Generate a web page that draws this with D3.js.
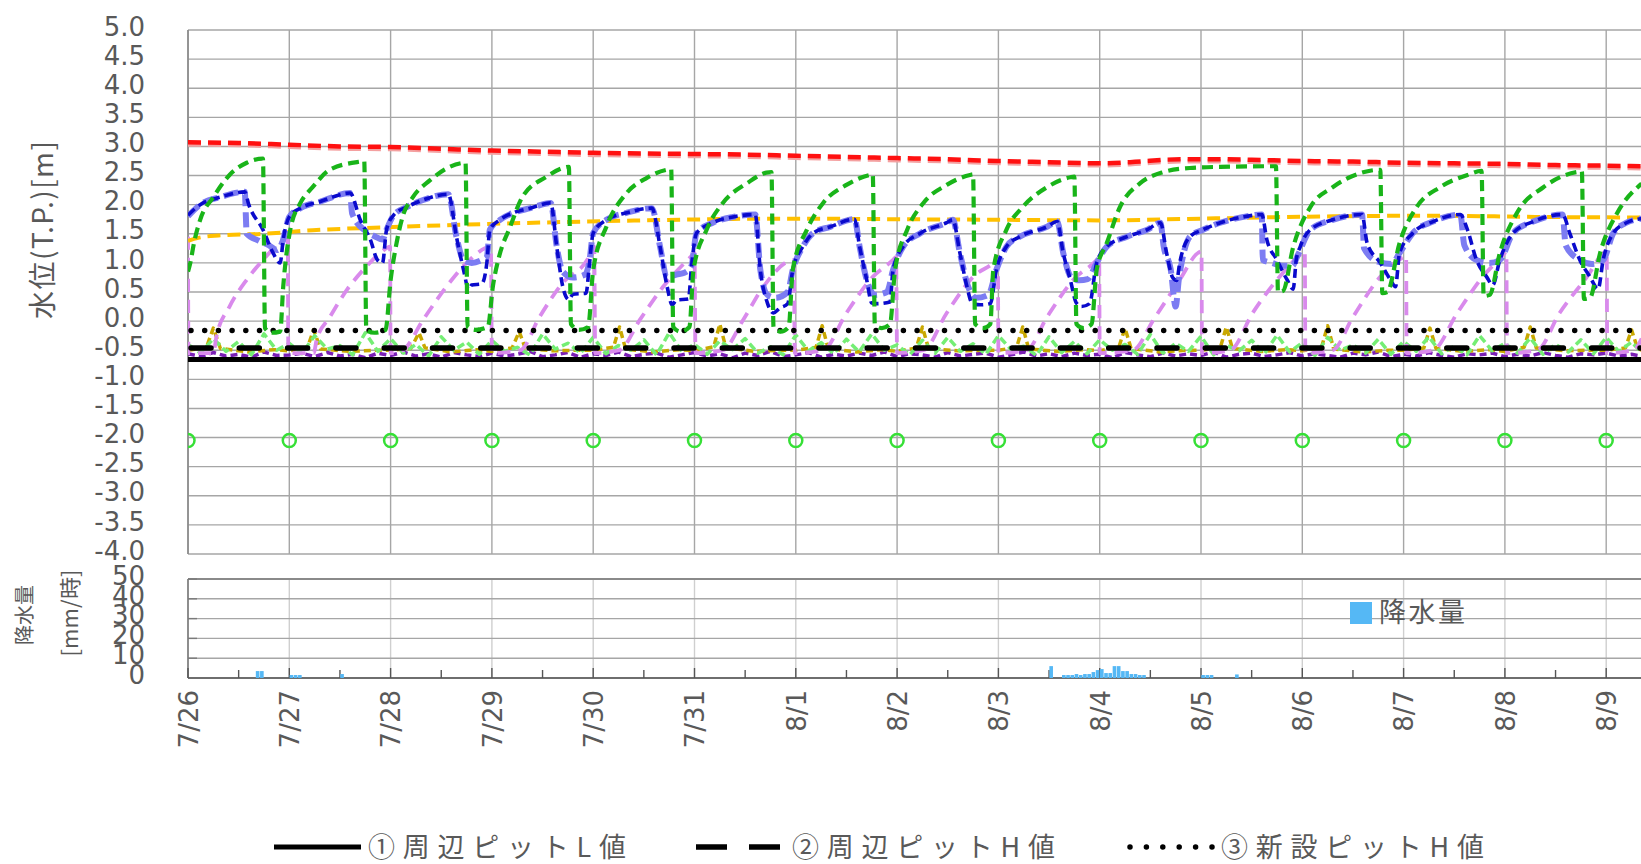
<!DOCTYPE html>
<html><head><meta charset="utf-8">
<script src="https://cdn.jsdelivr.net/npm/d3@7"></script>
<style>body{margin:0;background:#fff;} svg{display:block}</style>
</head><body>
<svg id="c" width="1641" height="864"></svg>
<script>
// ---------- DATA ----------
const dayLabels = ["7/26","7/27","7/28","7/29","7/30","7/31","8/1","8/2","8/3","8/4","8/5","8/6","8/7","8/8","8/9"];
const levelTicks = [5.0,4.5,4.0,3.5,3.0,2.5,2.0,1.5,1.0,0.5,0.0,-0.5,-1.0,-1.5,-2.0,-2.5,-3.0,-3.5,-4.0];
const rainTicks = [0,10,20,30,40,50];

// reference levels [m]
const levelL_surround = -0.66;   // ①周辺ピットL値
const levelH_surround = -0.46;   // ②周辺ピットH値
const levelH_new = -0.16;        // ③新設ピットH値

// series: [day offset from 7/26 0:00, level m]
const seriesGreen = [
[0,0.85],[0.02,0.98],[0.06,1.35],[0.12,1.74],[0.25,2.13],[0.41,2.51],[0.58,2.72],[0.74,2.79],
[0.76,-0.12],[0.82,-0.2],[0.91,-0.18],[0.94,0.59],[1.01,1.57],[1.11,2.03],[1.23,2.30],[1.40,2.60],[1.70,2.74],[1.74,2.75],
[1.76,-0.15],[1.84,-0.2],[1.95,-0.15],[2.0,0.7],[2.06,1.35],[2.12,1.8],[2.22,2.13],[2.39,2.42],[2.56,2.63],[2.74,2.72],
[2.76,-0.1],[2.84,-0.15],[2.96,-0.1],[3.01,0.6],[3.07,1.1],[3.18,1.62],[3.30,2.13],[3.54,2.48],[3.70,2.63],[3.76,2.65],
[3.78,-0.05],[3.86,-0.15],[3.95,-0.1],[4.0,0.88],[4.13,1.62],[4.33,2.2],[4.53,2.46],[4.73,2.6],[4.77,2.61],
[4.79,-0.1],[4.86,-0.18],[4.95,-0.1],[4.99,0.88],[5.12,1.57],[5.28,2.03],[5.52,2.37],[5.71,2.55],[5.76,2.56],
[5.78,-0.1],[5.85,-0.18],[5.93,-0.1],[5.97,0.88],[6.11,1.57],[6.27,2.03],[6.5,2.34],[6.73,2.51],[6.76,2.52],
[6.78,-0.05],[6.85,-0.12],[6.93,-0.05],[6.98,0.88],[7.1,1.57],[7.26,2.03],[7.49,2.34],[7.72,2.51],[7.75,2.52],
[7.77,-0.05],[7.85,-0.12],[7.92,-0.05],[7.95,0.88],[8.08,1.57],[8.24,1.96],[8.48,2.3],[8.71,2.47],[8.75,2.48],
[8.77,-0.05],[8.84,-0.12],[8.92,-0.05],[8.97,0.88],[9.07,1.34],[9.2,1.96],[9.4,2.37],[9.63,2.56],[9.89,2.63],[10.19,2.65],[10.74,2.66],
[10.76,0.5],[10.81,0.52],[10.91,1.27],[11.08,1.96],[11.3,2.3],[11.57,2.54],[11.77,2.6],
[11.79,0.48],[11.84,0.5],[11.96,1.34],[12.13,1.96],[12.36,2.3],[12.63,2.51],[12.77,2.58],
[12.79,0.43],[12.85,0.45],[12.95,1.17],[13.12,1.86],[13.38,2.3],[13.71,2.56],[13.76,2.57],
[13.78,0.38],[13.84,0.4],[13.94,1.17],[14.11,1.86],[14.35,2.36]];

const seriesBlueDark = [
[0,1.82],[0.12,2.0],[0.32,2.13],[0.56,2.22],[0.6,2.0],[0.74,1.57],[0.84,1.17],[0.91,1.0],[0.94,1.4],[1.0,1.79],[1.11,1.94],[1.3,2.05],[1.6,2.2],
[1.7,1.74],[1.8,1.4],[1.87,1.05],[1.92,1.0],[1.96,1.57],[2.03,1.82],[2.16,1.96],[2.32,2.08],[2.57,2.18],
[2.65,1.45],[2.72,0.88],[2.77,0.55],[2.8,0.62],[2.9,0.64],[2.95,1.0],[2.98,1.57],[3.08,1.74],[3.21,1.86],[3.38,1.94],[3.58,2.03],
[3.64,1.28],[3.7,0.59],[3.76,0.37],[3.8,0.46],[3.93,0.48],[3.96,0.93],[4.0,1.51],[4.13,1.74],[4.33,1.86],[4.58,1.94],
[4.66,1.28],[4.73,0.59],[4.78,0.28],[4.82,0.36],[4.94,0.38],[4.97,0.93],[5.02,1.51],[5.18,1.69],[5.38,1.79],[5.6,1.83],
[5.65,0.88],[5.72,0.31],[5.78,0.14],[5.84,0.22],[5.92,0.3],[5.97,0.88],[6.07,1.28],[6.17,1.51],[6.34,1.62],[6.58,1.75],
[6.63,1.28],[6.7,0.71],[6.75,0.31],[6.8,0.3],[6.93,0.33],[6.96,0.88],[7.06,1.28],[7.23,1.51],[7.49,1.69],[7.55,1.74],
[7.62,1.17],[7.69,0.59],[7.74,0.31],[7.82,0.28],[7.92,0.3],[7.98,0.88],[8.08,1.28],[8.21,1.45],[8.48,1.62],[8.58,1.71],
[8.64,1.17],[8.71,0.71],[8.77,0.31],[8.82,0.25],[8.9,0.3],[8.97,1.0],[9.07,1.28],[9.27,1.45],[9.47,1.57],[9.6,1.69],
[9.66,1.17],[9.72,0.75],[9.76,0.7],[9.79,1.0],[9.89,1.45],[10.02,1.57],[10.19,1.69],[10.42,1.79],[10.6,1.83],
[10.65,1.4],[10.75,1.05],[10.85,0.71],[10.91,0.55],[10.94,1.05],[10.98,1.28],[11.08,1.57],[11.3,1.74],[11.59,1.83],
[11.64,1.34],[11.77,1.0],[11.87,0.71],[11.92,0.59],[11.96,1.17],[12.09,1.51],[12.29,1.71],[12.56,1.83],
[12.63,1.57],[12.72,1.05],[12.82,0.76],[12.88,0.62],[12.95,1.05],[13.08,1.51],[13.28,1.71],[13.57,1.83],
[13.64,1.51],[13.74,1.05],[13.84,0.76],[13.92,0.55],[13.97,1.05],[14.07,1.51],[14.2,1.69],[14.35,1.76]];

const seriesBlueLight = [
[0,1.8],[0.12,2.0],[0.32,2.13],[0.56,2.22],[0.58,1.5],[0.7,1.38],[0.8,1.3],[0.88,1.22],[0.93,1.35],[1.0,1.79],[1.11,1.94],[1.3,2.05],[1.6,2.2],
[1.62,1.85],[1.75,1.55],[1.85,1.45],[1.92,1.4],[1.96,1.57],[2.03,1.82],[2.16,1.96],[2.32,2.08],[2.57,2.18],
[2.65,1.45],[2.72,1.05],[2.8,1.0],[2.9,1.05],[2.95,1.1],[2.98,1.57],[3.08,1.74],[3.21,1.86],[3.38,1.94],[3.58,2.03],
[3.64,1.28],[3.7,0.85],[3.8,0.75],[3.92,0.8],[3.96,1.0],[4.0,1.51],[4.13,1.74],[4.33,1.86],[4.58,1.94],
[4.66,1.28],[4.73,0.75],[4.82,0.8],[4.9,0.83],[4.97,0.95],[5.02,1.51],[5.18,1.69],[5.38,1.79],[5.6,1.83],
[5.65,0.88],[5.72,0.45],[5.8,0.4],[5.92,0.5],[5.97,0.88],[6.07,1.28],[6.17,1.51],[6.34,1.62],[6.58,1.75],
[6.63,1.28],[6.7,0.71],[6.78,0.45],[6.9,0.5],[6.96,0.88],[7.06,1.28],[7.23,1.51],[7.49,1.69],[7.55,1.74],
[7.62,1.17],[7.7,0.6],[7.78,0.4],[7.9,0.45],[7.98,0.88],[8.08,1.28],[8.21,1.45],[8.48,1.62],[8.58,1.71],
[8.64,1.17],[8.72,0.75],[8.8,0.7],[8.88,0.72],[8.97,1.0],[9.07,1.28],[9.27,1.45],[9.47,1.57],[9.6,1.69],
[9.63,1.3],[9.7,0.9],[9.75,0.25],[9.78,0.7],[9.82,1.1],[9.89,1.45],[10.02,1.57],[10.19,1.69],[10.42,1.79],[10.6,1.83],
[10.61,1.05],[10.7,1.0],[10.8,0.95],[10.9,0.95],[10.96,1.15],[11.08,1.57],[11.3,1.74],[11.59,1.83],
[11.61,1.25],[11.75,1.02],[11.88,0.98],[11.96,1.17],[12.09,1.51],[12.29,1.71],[12.56,1.83],
[12.6,1.3],[12.72,1.05],[12.85,1.0],[12.95,1.05],[13.08,1.51],[13.28,1.71],[13.57,1.83],
[13.6,1.3],[13.74,1.05],[13.86,0.98],[13.97,1.05],[14.07,1.51],[14.2,1.69],[14.35,1.76]];

const seriesPink = [
[0,1.45],[0.005,-0.55],[0.25,-0.55],[0.28,-0.27],[0.41,0.25],[0.58,0.71],[0.74,1.05],[0.91,1.34],[0.985,1.4],
[0.99,-0.55],[1.24,-0.55],[1.27,-0.32],[1.4,0.07],[1.57,0.54],[1.73,0.88],[1.9,1.17],[1.995,1.28],
[2.0,-0.55],[2.12,-0.5],[2.32,0.02],[2.55,0.59],[2.78,1.05],[2.99,1.28],
[3.0,-0.55],[3.28,-0.5],[3.47,0.07],[3.7,0.66],[3.94,1.05],[4.01,1.28],
[4.02,-0.55],[4.26,-0.5],[4.46,0.02],[4.69,0.59],[4.96,1.1],[5.0,1.17],
[5.01,-0.55],[5.28,-0.5],[5.48,0.02],[5.68,0.59],[5.98,1.05],
[5.99,-0.55],[6.27,-0.5],[6.5,0.14],[6.76,0.76],[6.96,1.05],[6.99,1.1],
[7.0,-0.55],[7.26,-0.5],[7.49,0.14],[7.75,0.76],[7.98,1.05],[7.995,1.08],
[8.0,-0.55],[8.28,-0.5],[8.48,0.07],[8.74,0.71],[8.97,1.05],[8.995,1.1],
[9.0,-0.55],[9.33,-0.5],[9.53,0.02],[9.79,0.71],[9.97,1.17],[10.005,1.2],
[10.01,-0.55],[10.29,-0.5],[10.51,0.14],[10.81,0.83],[11.0,1.17],[11.025,1.2],
[11.03,-0.55],[11.3,-0.5],[11.5,0.07],[11.77,0.76],[12.0,1.1],[12.025,1.12],
[12.03,-0.55],[12.29,-0.5],[12.53,0.14],[12.78,0.76],[13.0,1.17],[13.015,1.2],
[13.02,-0.55],[13.32,-0.5],[13.54,0.14],[13.81,0.76],[13.99,1.19],[14.005,1.2],
[14.01,-0.55],[14.27,-0.5],[14.35,-0.3]];

const seriesRed = [
[0,3.07],[0.5,3.06],[1,3.03],[1.5,3.0],[2,2.99],[2.5,2.96],[3,2.93],[3.5,2.91],[4,2.89],[4.5,2.88],[5,2.87],[5.5,2.86],
[6,2.84],[6.5,2.82],[7,2.8],[7.5,2.78],[8,2.75],[8.5,2.73],[9,2.71],[9.3,2.73],[9.8,2.78],[10.2,2.78],[10.5,2.77],
[11,2.75],[11.5,2.74],[12,2.72],[12.5,2.71],[13,2.7],[13.5,2.68],[14,2.67],[14.35,2.66]];

const seriesOrange = [
[0,1.38],[0.1,1.43],[0.3,1.47],[0.74,1.5],[1.23,1.56],[2.09,1.62],[3.2,1.68],[4.5,1.73],[5.8,1.76],[7,1.75],
[8,1.74],[9,1.73],[10,1.76],[11.3,1.8],[12.3,1.81],[13.3,1.79],[14.35,1.78]];

// bottom band series sampled every 3 hours from 7/26 0:00
const seriesLightGreen = [
-0.40,-0.55,-0.30,-0.52,-0.35,-0.58,-0.22,-0.50,
-0.38,-0.56,-0.25,-0.48,-0.42,-0.58,-0.20,-0.52,
-0.30,-0.55,-0.40,-0.60,-0.27,-0.50,-0.36,-0.57,
-0.33,-0.52,-0.45,-0.58,-0.22,-0.48,-0.38,-0.55,
-0.28,-0.56,-0.42,-0.50,-0.32,-0.58,-0.20,-0.52,
-0.40,-0.57,-0.34,-0.49,-0.30,-0.55,-0.44,-0.58,
-0.24,-0.51,-0.37,-0.56,-0.31,-0.53,-0.22,-0.50,
-0.41,-0.58,-0.33,-0.55,-0.28,-0.52,-0.39,-0.57,
-0.25,-0.49,-0.43,-0.59,-0.27,-0.54,-0.35,-0.56,
-0.32,-0.50,-0.40,-0.57,-0.23,-0.55,-0.38,-0.52,
-0.26,-0.58,-0.42,-0.51,-0.33,-0.56,-0.24,-0.53,
-0.37,-0.59,-0.28,-0.50,-0.41,-0.55,-0.31,-0.57,
-0.35,-0.52,-0.27,-0.56,-0.43,-0.58,-0.25,-0.51,
-0.38,-0.55,-0.29,-0.57,-0.40,-0.53,-0.32,-0.56,
-0.28,-0.52,-0.36,-0.58];
const seriesPurple = [
-0.56,-0.61,-0.54,-0.60,-0.57,-0.62,-0.53,-0.59,
-0.58,-0.55,-0.61,-0.54,-0.60,-0.57,-0.63,-0.55,
-0.59,-0.53,-0.60,-0.56,-0.62,-0.54,-0.58,-0.61,
-0.55,-0.60,-0.57,-0.52,-0.61,-0.58,-0.54,-0.62,
-0.56,-0.59,-0.53,-0.61,-0.57,-0.55,-0.62,-0.58,
-0.54,-0.60,-0.56,-0.63,-0.55,-0.59,-0.52,-0.61,
-0.58,-0.54,-0.62,-0.57,-0.60,-0.55,-0.59,-0.53,
-0.61,-0.56,-0.58,-0.62,-0.54,-0.60,-0.57,-0.55,
-0.62,-0.58,-0.53,-0.60,-0.56,-0.61,-0.55,-0.59,
-0.57,-0.63,-0.54,-0.58,-0.61,-0.55,-0.60,-0.56,
-0.59,-0.53,-0.62,-0.57,-0.55,-0.61,-0.58,-0.54,
-0.60,-0.56,-0.59,-0.62,-0.55,-0.58,-0.53,-0.61,
-0.57,-0.60,-0.54,-0.59,-0.62,-0.56,-0.58,-0.55,
-0.61,-0.57,-0.60,-0.54,-0.59,-0.62,-0.56,-0.58,
-0.55,-0.60,-0.57,-0.61];
const seriesOlive = [
[0,-0.5],[0.18,-0.46],[0.25,-0.12],[0.32,-0.47],[0.6,-0.53],[0.85,-0.49],
[1,-0.51],[1.18,-0.45],[1.24,-0.15],[1.31,-0.48],[1.6,-0.52],[1.85,-0.5],
[2,-0.5],[2.2,-0.47],[2.28,-0.2],[2.34,-0.46],[2.6,-0.53],[2.85,-0.49],
[3,-0.52],[3.2,-0.46],[3.27,-0.18],[3.33,-0.47],[3.6,-0.51],[3.85,-0.5],
[4,-0.5],[4.2,-0.45],[4.26,-0.1],[4.32,-0.48],[4.6,-0.53],[4.85,-0.49],
[5,-0.51],[5.19,-0.44],[5.25,-0.05],[5.31,-0.46],[5.6,-0.52],[5.85,-0.5],
[6,-0.5],[6.2,-0.45],[6.26,-0.08],[6.32,-0.47],[6.6,-0.53],[6.85,-0.49],
[7,-0.52],[7.19,-0.46],[7.25,-0.1],[7.31,-0.47],[7.6,-0.51],[7.85,-0.5],
[8,-0.5],[8.18,-0.45],[8.24,-0.1],[8.3,-0.48],[8.6,-0.52],[8.85,-0.49],
[9,-0.51],[9.19,-0.44],[9.25,-0.12],[9.31,-0.47],[9.6,-0.53],[9.85,-0.5],
[10,-0.5],[10.19,-0.46],[10.25,-0.1],[10.31,-0.47],[10.6,-0.52],[10.85,-0.49],
[11,-0.51],[11.19,-0.45],[11.25,-0.08],[11.31,-0.48],[11.6,-0.53],[11.85,-0.5],
[12,-0.5],[12.2,-0.46],[12.26,-0.12],[12.32,-0.47],[12.6,-0.52],[12.85,-0.49],
[13,-0.52],[13.19,-0.45],[13.25,-0.1],[13.31,-0.46],[13.6,-0.51],[13.85,-0.5],
[14,-0.5],[14.19,-0.46],[14.25,-0.15],[14.31,-0.47],[14.35,-0.5]];

// daily marker (green circles)
const circleValues = [-2.05,-2.05,-2.05,-2.05,-2.05,-2.05,-2.05,-2.05,-2.05,-2.05,-2.05,-2.05,-2.05,-2.05,-2.05];

// hourly rainfall [hour from 7/26 0:00, mm]
const rainHourly = [
[16,3.5],[17,3.5],[24,1.5],[25,1.5],[26,1.5],[36,2.0],
[204,6.0],[207,1.5],[208,1.5],[209,1.5],[210,2.0],[211,1.5],[212,2.0],[213,2.0],[214,3.0],[215,4.0],[216,4.5],
[217,2.5],[218,2.5],[219,6.0],[220,6.0],[221,3.5],[222,3.5],[223,2.0],[224,2.0],[225,1.5],[226,1.5],
[240,1.5],[241,1.5],[242,1.5],[248,1.8]];

const legendItems = ["①周辺ピットL値","②周辺ピットH値","③新設ピットH値"];

// ---------- DRAW ----------
const svg = d3.select('#c');
const TXT = '#595959';
const NUMF = '"DejaVu Sans", Verdana, sans-serif';
const JPF = '"Noto Sans CJK JP", sans-serif';

const x = d3.scaleLinear().domain([0, 14.35]).range([188, 188 + 14.35*101.3]);
const y = d3.scaleLinear().domain([-4, 5]).range([554, 30]);
const yr = d3.scaleLinear().domain([0, 50]).range([678, 579]);
const days = d3.range(dayLabels.length);

svg.append('defs').append('clipPath').attr('id','clipMain')
  .append('rect').attr('x',188).attr('y',20).attr('width',1641-188).attr('height',545);

// main grid
const g = svg.append('g');
g.selectAll('line.hg').data(levelTicks).join('line')
  .attr('x1',188).attr('x2',1641).attr('y1',d=>y(d)).attr('y2',d=>y(d))
  .attr('stroke','#a6a6a6').attr('stroke-width',1.4);
g.selectAll('line.vg').data(days).join('line')
  .attr('x1',d=>x(d)).attr('x2',d=>x(d)).attr('y1',y(5)).attr('y2',y(-4))
  .attr('stroke','#a6a6a6').attr('stroke-width',1.4);
g.append('line').attr('x1',188).attr('x2',188).attr('y1',y(5)).attr('y2',y(-4))
  .attr('stroke','#8a8a8a').attr('stroke-width',1.6);

// y axis main
const ya = svg.append('g').attr('transform','translate(188,0)')
  .call(d3.axisLeft(y).tickValues(levelTicks).tickSize(0).tickPadding(43).tickFormat(d=>d.toFixed(1)));
ya.select('.domain').remove();
ya.selectAll('text').attr('fill',TXT).attr('font-family',NUMF).attr('font-size',26).attr('dy','0.2em');

// rain panel grid
const gr = svg.append('g');
gr.selectAll('line.rv').data(days).join('line')
  .attr('x1',d=>x(d)).attr('x2',d=>x(d)).attr('y1',yr(50)).attr('y2',yr(0))
  .attr('stroke','#cfcfcf').attr('stroke-width',1.4);
gr.selectAll('line.rh').data(rainTicks.filter(d=>d>0)).join('line')
  .attr('x1',188).attr('x2',1641).attr('y1',d=>yr(d)).attr('y2',d=>yr(d))
  .attr('stroke',d=>d===50?'#8a8a8a':'#a6a6a6').attr('stroke-width',d=>d===50?1.8:1.4);
gr.selectAll('line.rt').data(rainTicks).join('line')
  .attr('x1',188).attr('x2',197).attr('y1',d=>yr(d)).attr('y2',d=>yr(d))
  .attr('stroke','#7a7a7a').attr('stroke-width',1.4);
gr.append('line').attr('x1',188).attr('x2',188).attr('y1',yr(50)).attr('y2',yr(0))
  .attr('stroke','#7a7a7a').attr('stroke-width',1.6);

// rain bars
const hw = x(1/24) - x(0);
svg.append('g').selectAll('rect').data(rainHourly).join('rect')
  .attr('x',d=>x(d[0]/24)+0.3).attr('width',hw-0.6)
  .attr('y',d=>yr(d[1])).attr('height',d=>yr(0)-yr(d[1]))
  .attr('fill','#55b8f5');

// rain x axis baseline and ticks
gr.append('line').attr('x1',188).attr('x2',1641).attr('y1',yr(0)).attr('y2',yr(0))
  .attr('stroke','#6e6e6e').attr('stroke-width',1.8);
const halfDays = d3.range(0, 14.5, 0.5);
gr.selectAll('line.tk').data(halfDays).join('line')
  .attr('x1',d=>x(d)).attr('x2',d=>x(d)).attr('y1',yr(0)).attr('y2',d=>yr(0)-(d%1===0?10:8))
  .attr('stroke','#555').attr('stroke-width',1.4);

// rain y axis
const yra = svg.append('g').attr('transform','translate(188,0)')
  .call(d3.axisLeft(yr).tickValues(rainTicks).tickSize(0).tickPadding(43));
yra.select('.domain').remove();
yra.selectAll('text').attr('fill',TXT).attr('font-family',NUMF).attr('font-size',26).attr('dy','0.2em');

// x axis (dates)
const xa = svg.append('g').attr('transform',`translate(0,${yr(0)})`)
  .call(d3.axisBottom(x).tickValues(days).tickSize(0).tickFormat(i=>dayLabels[i]));
xa.select('.domain').remove();
xa.selectAll('text').attr('fill',TXT).attr('font-family',NUMF).attr('font-size',26)
  .attr('transform','rotate(-90)').attr('x',-12).attr('y',0).attr('dy','0.36em').style('text-anchor','end');

// axis titles
svg.append('text').attr('transform','translate(43,230) rotate(-90)').attr('text-anchor','middle').attr('dy','0.36em')
  .attr('font-family',JPF).attr('font-size',28).attr('fill',TXT).attr('textLength',178).attr('lengthAdjust','spacing')
  .text('水位(T.P.)[m]');
svg.append('text').attr('transform','translate(25,615) rotate(-90)').attr('text-anchor','middle').attr('dy','0.36em')
  .attr('font-family',JPF).attr('font-size',20).attr('fill',TXT).text('降水量');
svg.append('text').attr('transform','translate(70,613) rotate(-90)').attr('text-anchor','middle').attr('dy','0.36em')
  .attr('font-family',JPF).attr('font-size',22).attr('fill',TXT).attr('textLength',87).attr('lengthAdjust','spacing')
  .text('[mm/時]');

// ---------- SERIES ----------
const pl = svg.append('g').attr('clip-path','url(#clipMain)');
const lineM = d3.line().x(d=>x(d[0])).y(d=>y(d[1])).curve(d3.curveMonotoneX);
const lineL = d3.line().x(d=>x(d[0])).y(d=>y(d[1]));
const sampled = arr => arr.map((v,i)=>[i*0.125, v]);

function path(data, gen, color, w, dash){
  const p = pl.append('path').datum(data).attr('d',gen).attr('fill','none')
    .attr('stroke',color).attr('stroke-width',w).attr('stroke-linejoin','round');
  if (dash) p.attr('stroke-dasharray',dash);
  return p;
}

path(sampled(seriesPurple), lineL, '#7a1fb5', 3.5, '7,4');
path(seriesOlive, lineL, '#c9a800', 3.5, '7,4');
path(sampled(seriesLightGreen), lineL, '#74ee74', 3.5, '8,4');
path(seriesPink, lineM, '#d98aec', 3.8, '13,8');

// reference lines
const refs = [
  {v:levelL_surround, w:5, dash:null, cap:'butt'},
  {v:levelH_surround, w:5.5, dash:'20,28.3', cap:'round'},
  {v:levelH_new, w:5.5, dash:'0,13.7', cap:'round'}];
refs.forEach(r=>{
  const l = pl.append('line').attr('x1',x(0)+(r.cap==='round'?3:0)).attr('x2',1641).attr('y1',y(r.v)).attr('y2',y(r.v))
    .attr('stroke','#000').attr('stroke-width',r.w).attr('stroke-linecap',r.cap);
  if (r.dash) l.attr('stroke-dasharray',r.dash);
});

path(seriesOrange, lineM, '#ffc000', 4, '13,7');
path(seriesRed.map(d=>[d[0], d[1]-0.035]), lineM, '#f4a0a0', 4.5, '13,7');
path(seriesRed, lineM, '#ff1010', 4.5, '13,7');
path(seriesBlueLight, lineM, '#7c7cf2', 6, '15,6');
path(seriesBlueDark, lineM, '#0a0acc', 3.6, '9,5');
path(seriesGreen, lineM, '#19b419', 4.2, '11,6');

pl.selectAll('circle.mk').data(circleValues).join('circle')
  .attr('cx',(d,i)=>x(i)).attr('cy',d=>y(d)).attr('r',6.5)
  .attr('fill','none').attr('stroke','#36e036').attr('stroke-width',2.5);

// ---------- LEGENDS ----------
// rain legend
svg.append('rect').attr('x',1350).attr('y',602).attr('width',22).attr('height',22).attr('fill','#55b8f5');
svg.append('text').attr('x',1379).attr('y',612).attr('dy','0.36em').attr('font-family',JPF).attr('font-size',27)
  .attr('fill',TXT).attr('textLength',86).attr('lengthAdjust','spacing').text('降水量');

// bottom legend
const LY = 847;
const lg = svg.append('g');
lg.append('line').attr('x1',274).attr('x2',361).attr('y1',LY).attr('y2',LY).attr('stroke','#000').attr('stroke-width',5);
lg.append('line').attr('x1',696).attr('x2',780).attr('y1',LY).attr('y2',LY).attr('stroke','#000').attr('stroke-width',5.5)
  .attr('stroke-dasharray','31,22');
lg.append('line').attr('x1',1130).attr('x2',1212).attr('y1',LY).attr('y2',LY).attr('stroke','#000').attr('stroke-width',5.5)
  .attr('stroke-linecap','round').attr('stroke-dasharray','0,16.4');
const legX = [368, 792, 1221], legW = [258, 263, 263];
legendItems.forEach((t,i)=>{
  lg.append('text').attr('x',legX[i]).attr('y',LY).attr('dy','0.36em').attr('font-family',JPF).attr('font-size',27)
    .attr('fill',TXT).attr('textLength',legW[i]).attr('lengthAdjust','spacing').text(t);
});
</script>
</body></html>
